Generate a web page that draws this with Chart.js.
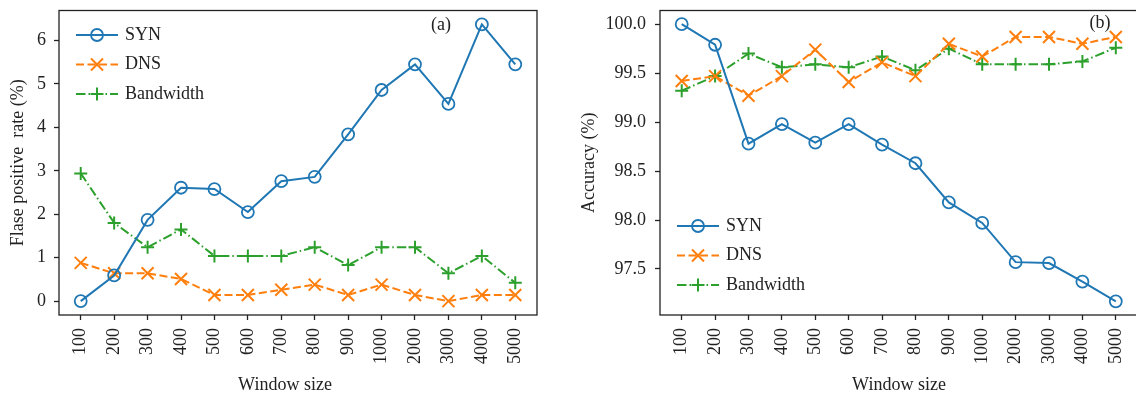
<!DOCTYPE html>
<html>
<head>
<meta charset="utf-8">
<script src="https://cdn.jsdelivr.net/npm/chart.js@4"></script>
<style>
  html, body { margin: 0; padding: 0; background: #fff; overflow: hidden; }
  #wrapA { position: absolute; left: 0; top: 0; width: 568px; height: 400px; }
  #wrapB { position: absolute; left: 568px; top: 0; width: 580px; height: 400px; }
</style>
</head>
<body>
<div id="wrapA"><canvas id="chartA" width="568" height="400"></canvas></div>
<div id="wrapB"><canvas id="chartB" width="580" height="400"></canvas></div>
<script>
// window sizes (x categories)
const windowSizes = ['100', '200', '300', '400', '500', '600', '700', '800', '900', '1000', '2000', '3000', '4000', '5000'];

// (a) false positive rate (%)
const fprSyn = [0, 0.59, 1.87, 2.61, 2.58, 2.05, 2.76, 2.86, 3.84, 4.86, 5.45, 4.54, 6.37, 5.45];
const fprDns = [0.88, 0.64, 0.64, 0.51, 0.14, 0.14, 0.26, 0.38, 0.14, 0.38, 0.14, 0.0, 0.14, 0.14];
const fprBw  = [2.94, 1.80, 1.24, 1.65, 1.04, 1.04, 1.04, 1.24, 0.83, 1.24, 1.24, 0.64, 1.04, 0.42];

// (b) accuracy (%)
const accSyn = [100.0, 99.79, 98.78, 98.98, 98.79, 98.98, 98.77, 98.58, 98.18, 97.97, 97.57, 97.56, 97.37, 97.17];
const accDns = [99.42, 99.47, 99.27, 99.47, 99.74, 99.41, 99.61, 99.47, 99.80, 99.67, 99.87, 99.87, 99.80, 99.87];
const accBw  = [99.32, 99.47, 99.70, 99.56, 99.59, 99.56, 99.67, 99.53, 99.75, 99.59, 99.59, 99.59, 99.62, 99.76];

const yTicksA = [0, 1, 2, 3, 4, 5, 6];
const yTicksB = [97.5, 98.0, 98.5, 99.0, 99.5, 100.0];

const FONT = "'Liberation Serif', 'DejaVu Serif', serif";
const INK = '#222';

function pts(arr) {
  return arr.map((v, i) => ({ x: i, y: v }));
}

function makeSets(syn, dns, bw) {
  return [
    { label: 'SYN', data: pts(syn), borderColor: '#1f77b4', backgroundColor: '#1f77b4',
      borderWidth: 2, pointStyle: 'circle', pointRadius: 6, pointBorderWidth: 1.8,
      pointBackgroundColor: 'rgba(0,0,0,0)', pointBorderColor: '#1f77b4', tension: 0 },
    { label: 'DNS', data: pts(dns), borderColor: '#ff7f0e', backgroundColor: '#ff7f0e',
      borderWidth: 2, borderDash: [8, 3.5], pointStyle: 'crossRot', pointRadius: 8.5, pointBorderWidth: 2,
      pointBorderColor: '#ff7f0e', tension: 0 },
    { label: 'Bandwidth', data: pts(bw), borderColor: '#2ca02c', backgroundColor: '#2ca02c',
      borderWidth: 2, borderDash: [9.5, 3, 1.5, 3], pointStyle: 'cross', pointRadius: 6.5, pointBorderWidth: 2,
      pointBorderColor: '#2ca02c', tension: 0 }
  ];
}

// frame, panel tag, legend and x title
const decor = {
  id: 'decor',
  afterDraw(chart, args, o) {
    const ctx = chart.ctx;
    const a = chart.chartArea;
    ctx.save();
    ctx.strokeStyle = INK;
    ctx.lineWidth = 1.3;
    ctx.setLineDash([]);
    ctx.strokeRect(a.left, a.top, a.right - a.left, a.bottom - a.top);

    ctx.fillStyle = INK;
    ctx.font = '18px ' + FONT;
    ctx.textAlign = 'center';
    ctx.textBaseline = 'middle';
    ctx.fillText(o.tag, o.tagX, o.tagY);
    ctx.fillText('Window size', o.xTitleX, o.xTitleY);

    // legend
    chart.data.datasets.forEach((ds, i) => {
      const y = o.legY + i * o.legGap;
      ctx.strokeStyle = ds.borderColor;
      ctx.lineWidth = ds.borderWidth;
      ctx.setLineDash(ds.borderDash || []);
      ctx.beginPath();
      ctx.moveTo(o.legX, y);
      ctx.lineTo(o.legX + o.legLen, y);
      ctx.stroke();
      ctx.setLineDash([]);
      ctx.fillStyle = 'rgba(0,0,0,0)';
      ctx.strokeStyle = ds.pointBorderColor;
      ctx.lineWidth = ds.pointBorderWidth;
      Chart.helpers.drawPoint(ctx, {
        pointStyle: ds.pointStyle, radius: ds.pointRadius, rotation: 0,
        borderWidth: ds.pointBorderWidth
      }, o.legX + o.legLen / 2, y);
      ctx.fillStyle = INK;
      ctx.textAlign = 'left';
      ctx.font = '18px ' + FONT;
      ctx.fillText(ds.label, o.legX + o.legLen + 7, y);
    });
    ctx.restore();
  }
};

function makeChart(id, sets, yMin, yMax, yTicks, yFmt, yTitle, yWidth, padRight, titlePad, tickPad, deco) {
  return new Chart(document.getElementById(id), {
    type: 'line',
    data: { datasets: sets },
    plugins: [decor],
    options: {
      responsive: false,
      animation: false,
      layout: { padding: { top: 8, right: padRight, bottom: 0, left: 0 } },
      plugins: { legend: { display: false }, tooltip: { enabled: false }, decor: deco },
      scales: {
        x: {
          type: 'linear',
          min: -0.65,
          max: windowSizes.length - 1 + 0.65,
          afterBuildTicks: s => { s.ticks = windowSizes.map((c, i) => ({ value: i })); },
          afterFit: s => { s.height = 85; s.paddingLeft = 0; s.paddingRight = 0; },
          ticks: {
            callback: v => windowSizes[v],
            minRotation: 90, maxRotation: 90, autoSkip: false,
            padding: 8, color: INK, font: { family: FONT, size: 18 }
          },
          grid: { drawOnChartArea: false, drawTicks: true, tickLength: 5, tickWidth: 1.3, tickColor: INK },
          border: { display: false }
        },
        y: {
          min: yMin, max: yMax,
          afterBuildTicks: s => { s.ticks = yTicks.map(v => ({ value: v })); },
          afterFit: s => { s.width = yWidth; s.paddingTop = 0; s.paddingBottom = 0; },
          ticks: {
            callback: yFmt, padding: tickPad, color: INK, font: { family: FONT, size: 18 }
          },
          grid: { drawOnChartArea: false, drawTicks: true, tickLength: 5, tickWidth: 1.3, tickColor: INK },
          border: { display: false },
          title: { display: true, text: yTitle, color: INK, font: { family: FONT, size: 18 }, padding: { top: titlePad, bottom: 0 } }
        }
      }
    }
  });
}

makeChart('chartA', makeSets(fprSyn, fprDns, fprBw), -0.32, 6.69, yTicksA, v => String(v),
  'Flase positive  rate (%)', 59, 31, 7, 8,
  { tag: '(a)', tagX: 441, tagY: 25, xTitleX: 285, xTitleY: 385,
    legX: 76, legY: 35, legGap: 29.5, legLen: 42 });

makeChart('chartB', makeSets(accSyn, accDns, accBw), 97.03, 100.14, yTicksB, v => v.toFixed(1),
  'Accuracy (%)', 92, 10, 10, 9,
  { tag: '(b)', tagX: 532, tagY: 23, xTitleX: 331, xTitleY: 385,
    legX: 109, legY: 226, legGap: 29.5, legLen: 42 });
</script>
</body>
</html>
